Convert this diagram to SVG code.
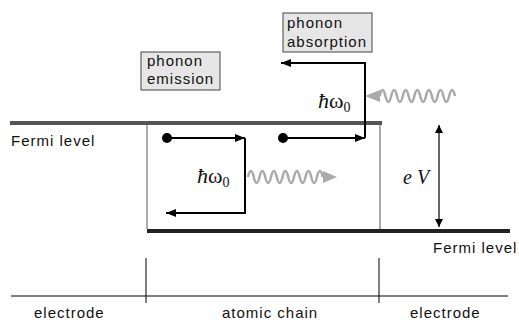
<svg xmlns="http://www.w3.org/2000/svg" width="519" height="322" viewBox="0 0 519 322">
<defs>
<style>
.lbl{font-family:"Liberation Sans",Arial,sans-serif;font-size:15px;letter-spacing:1px;fill:#111}
.math{font-family:"Liberation Serif","Times New Roman",serif;fill:#111}
.box{fill:#e6e6e6;stroke:#444;stroke-width:1}
.arr{stroke:#000;stroke-width:2;fill:none}
.wave{stroke:#aaa;stroke-width:2.5;fill:none}
.thin{stroke:#000;stroke-width:1;fill:none}
</style>
<marker id="ah" markerWidth="10" markerHeight="8" refX="10" refY="4" orient="auto" markerUnits="userSpaceOnUse">
<path d="M0,0 L10,4 L0,8 Z" fill="#000"/>
</marker>
<marker id="ahs" markerWidth="8" markerHeight="8" refX="8" refY="4" orient="auto-start-reverse" markerUnits="userSpaceOnUse">
<path d="M0,0 L8,4 L0,8 Z" fill="#000"/>
</marker>
</defs>
<rect width="519" height="322" fill="#fff"/>

<g id="levels">
<line x1="10" y1="123" x2="382" y2="123" stroke="#555" stroke-width="4"/>
<line x1="147" y1="231" x2="510" y2="231" stroke="#222" stroke-width="4"/>
<line x1="147" y1="125" x2="147" y2="229" stroke="#aaa" stroke-width="2"/>
<line x1="380" y1="125" x2="380" y2="229" stroke="#aaa" stroke-width="2"/>
</g>

<g id="fermi-left"><text class="lbl" x="11" y="146">Fermi level</text></g>
<g id="fermi-right"><text class="lbl" x="433" y="253">Fermi level</text></g>

<g id="emission-box">
<rect class="box" x="141" y="52" width="79" height="38"/>
<text class="lbl" x="147" y="66">phonon</text>
<text class="lbl" x="147" y="84">emission</text>
</g>
<g id="absorption-box">
<rect class="box" x="283" y="13" width="89" height="39"/>
<text class="lbl" x="287" y="28">phonon</text>
<text class="lbl" x="287" y="47">absorption</text>
</g>

<g id="electron1"><circle cx="167" cy="138" r="5" fill="#000"/></g>
<g id="electron2"><circle cx="283" cy="138" r="5" fill="#000"/></g>

<g id="connectors">
<path class="arr" d="M167,138 H245" marker-end="url(#ah)"/>
<path class="arr" d="M245,138 V213 H166" marker-end="url(#ah)"/>
<path class="arr" d="M283,138 H365" marker-end="url(#ah)"/>
<path class="arr" d="M365,138 V63 H281" marker-end="url(#ah)"/>
<path class="wave" d="M248,177 q2.875,-12 5.75,0 t5.75,0 t5.75,0 t5.75,0 t5.75,0 t5.75,0 t5.75,0 t5.75,0 t5.75,0 t5.75,0 t5.75,0 t5.75,0 t5.75,0"/>
<path d="M323,171 L337,177 L323,183 Z" fill="#aaa"/>
<path class="wave" d="M455,96 q-2.9,-12 -5.8,0 t-5.8,0 t-5.8,0 t-5.8,0 t-5.8,0 t-5.8,0 t-5.8,0 t-5.8,0 t-5.8,0 t-5.8,0 t-5.8,0 t-5.8,0 t-5.8,0"/>
<path d="M380,90 L365,96 L380,102 Z" fill="#aaa"/>
<path d="M439,125 V227" stroke="#000" stroke-width="1.2" fill="none" marker-start="url(#ahs)" marker-end="url(#ahs)"/>
<line class="thin" x1="11" y1="296" x2="508" y2="296"/>
<line class="thin" x1="146" y1="258" x2="146" y2="303"/>
<line class="thin" x1="379" y1="258" x2="379" y2="303"/>
</g>

<g id="hw-emission">
<text class="math" x="197" y="183" font-size="22"><tspan font-style="italic">ħ</tspan>ω<tspan font-size="14" dy="4">0</tspan></text>
</g>
<g id="hw-absorption">
<text class="math" x="318" y="108" font-size="22"><tspan font-style="italic">ħ</tspan>ω<tspan font-size="14" dy="4">0</tspan></text>
</g>
<g id="eV">
<text class="math" x="403" y="184" font-size="20" font-style="italic">e V</text>
</g>

<g id="label-electrode-left"><text class="lbl" x="34" y="318">electrode</text></g>
<g id="label-chain"><text class="lbl" x="222" y="318">atomic chain</text></g>
<g id="label-electrode-right"><text class="lbl" x="410" y="318">electrode</text></g>
</svg>
